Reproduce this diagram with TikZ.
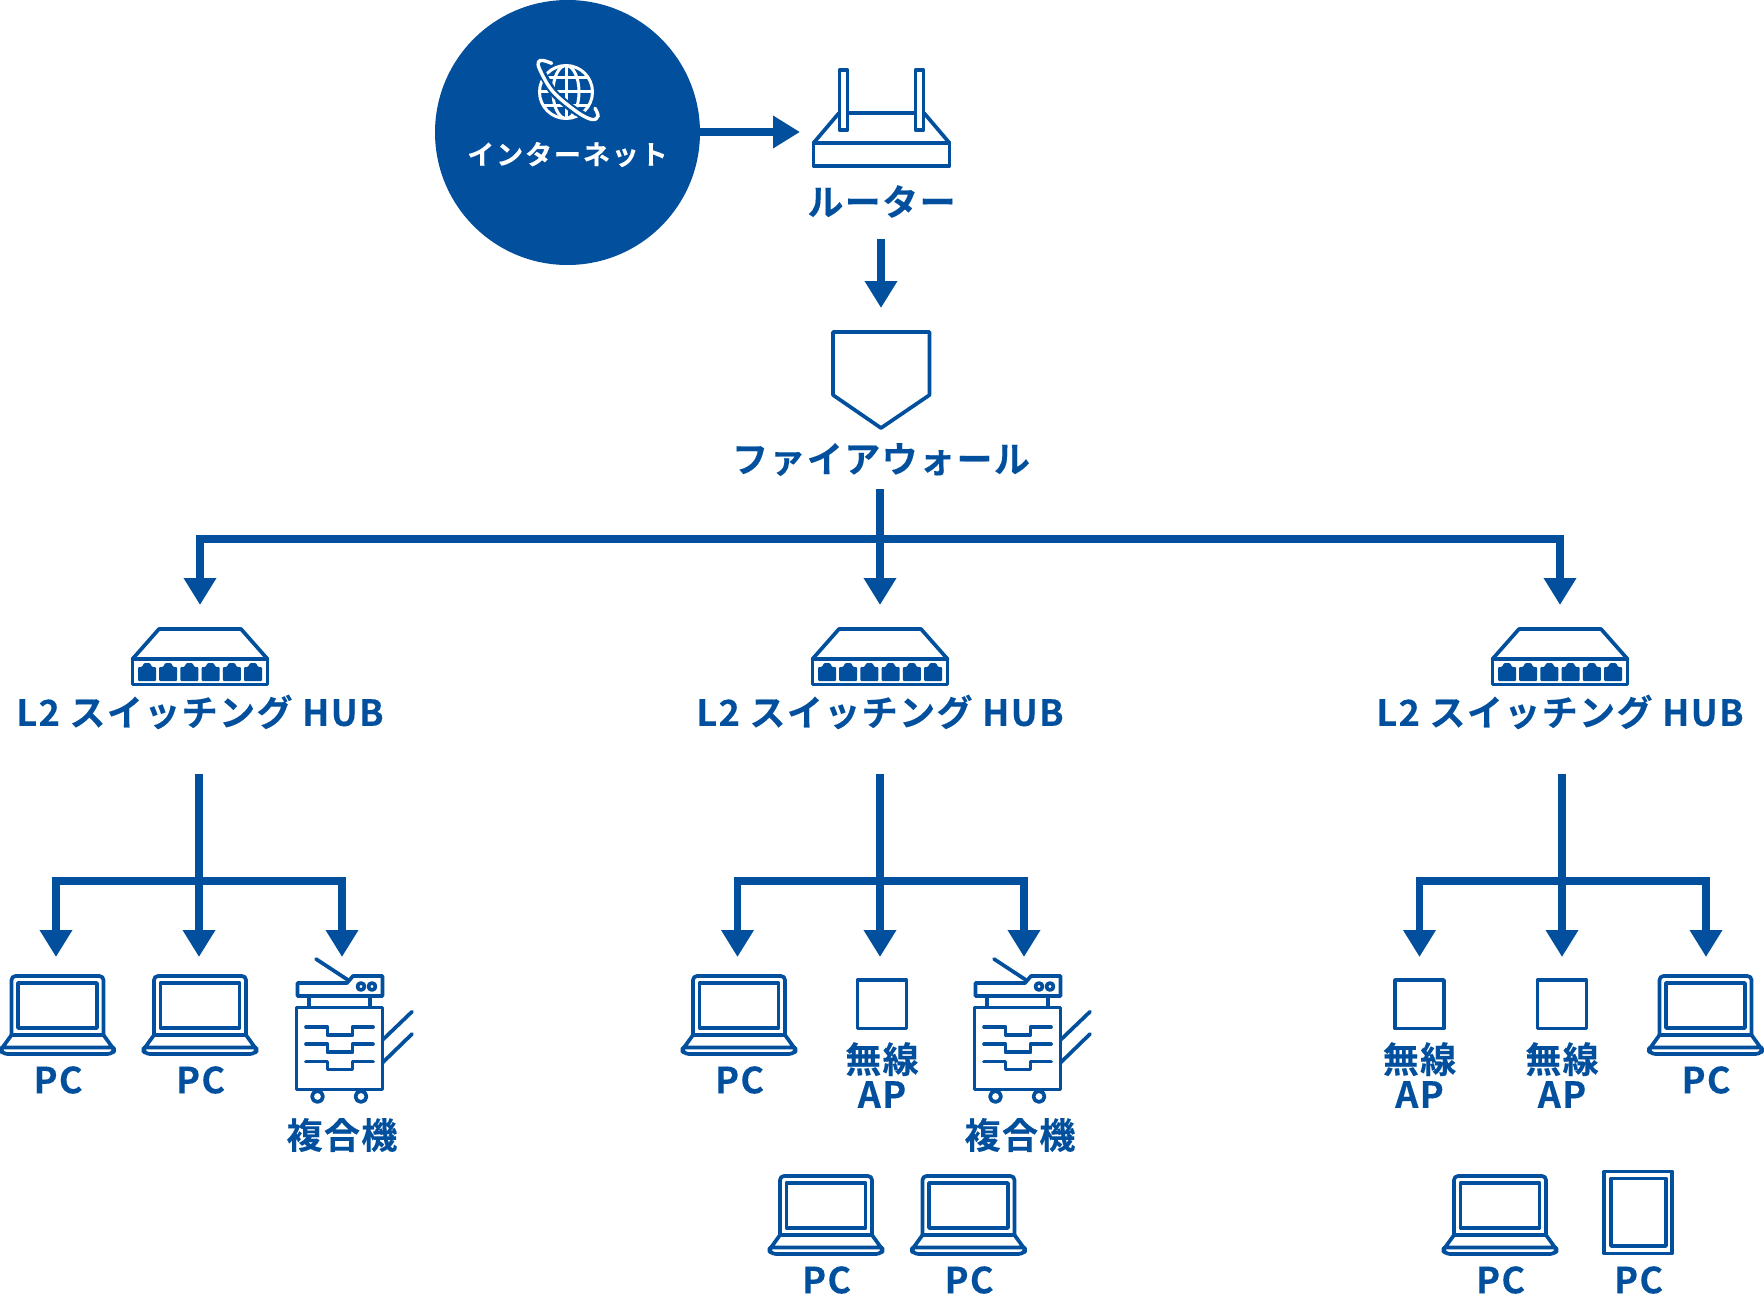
\documentclass[tikz,border=0pt]{standalone}
\usepackage{fontspec}
\usetikzlibrary{arrows.meta}
\setmainfont{Noto Sans CJK JP}[BoldFont={Noto Sans CJK JP Bold}]
\definecolor{nb}{HTML}{02509D}
\tikzset{
  base/.style={x=1pt,y=-1pt},
  icon/.style={draw=nb,line width=3.7pt,line join=round,line cap=round,fill=none},
  conn/.style={draw=nb,line width=7.5pt,line join=miter,-{Triangle[length=27pt,width=31pt]}},
  lbl/.style={text=nb,inner sep=0pt,align=center,font=\bfseries\fontsize{36}{35}\selectfont\addfontfeature{LetterSpace=3.9,FakeBold=0.25}},
  laptop/.pic={
    \draw[icon,rounded corners=4pt] (-46,59) -- (-46,0) -- (46,0) -- (46,59);
    \draw[icon] (-39.5,7) rectangle (39.5,52);
    \draw[icon] (-46,59) -- (46,59) -- (55,71.5) -- (-55,71.5) -- cycle;
    \draw[icon,rounded corners=3pt] (-55,71.5) -- (-56.5,73) -- (-56.5,75) -- (-53,78) -- (53,78) -- (56.5,75) -- (56.5,73) -- (55,71.5);
  },
  hub/.pic={
    \draw[icon] (-67.5,31) -- (-41,1) -- (41,1) -- (67.5,31) -- cycle;
    \draw[icon] (-67.5,31) rectangle (67.5,56.5);
    \foreach \px in {-53,-31.8,-10.6,10.6,31.8,53}{
      \fill[nb,rounded corners=1pt] (\px-9,53) -- (\px-9,39) -- (\px-5,39) -- (\px-3,35) -- (\px+3,35) -- (\px+5,39) -- (\px+9,39) -- (\px+9,53) -- cycle;
    }
  },
  printer/.pic={
    \draw[icon] (-43,25.5) rectangle (43,107.5);
    \draw[icon] (-42,14) -- (-42,1) -- (7.5,1) -- (13.5,-6) -- (43,-6) -- (43,14) -- cycle;
    \draw[icon] (-23.5,-23) -- (8.5,-2);
    \draw[icon] (21.5,4.5) circle[radius=3.5];
    \draw[icon] (32.5,4.5) circle[radius=3.5];
    \draw[icon] (-30.5,14) -- (-30.5,25);
    \draw[icon] (30.5,14) -- (30.5,25);
    \foreach \ty in {45,62.3,79.6}{
      \draw[icon] (-33.5,\ty) -- (-12,\ty) -- (-12,\ty+8) -- (13,\ty+8) -- (13,\ty) -- (33.5,\ty);
    }
    \draw[icon] (43,58) -- (72.5,29.7);
    \draw[icon] (43,80.7) -- (72.5,52);
    \draw[icon] (-22,114.5) circle[radius=5.5];
    \draw[icon] (21.5,114.5) circle[radius=5.5];
  },
  apbox/.pic={\draw[icon] (-24.5,1) rectangle (24.5,49.5);},
}
\begin{document}
\begin{tikzpicture}[base]
\useasboundingbox (0,0) rectangle (1764,1295);
% internet
\node[circle,fill=nb,minimum size=265pt,inner sep=0pt] (net) at (567.5,132.5) {};
\begin{scope}[white,line width=3pt]
  \draw (566,92) circle[radius=26.5];
  \begin{scope}
    \clip (566,92) circle[radius=26.5];
    \draw (566,65) -- (566,119);
    \draw (539,78) -- (593,78);
    \draw (539,92) -- (593,92);
    \draw (539,106) -- (593,106);
    \draw (566,92) ellipse[x radius=13,y radius=26.5];
  \end{scope}
  \draw[nb,line width=8pt] plot[smooth,tension=.6] coordinates {(542,73) (553,91.7) (565,103) (576.7,111.7) (588,117.5)};
  \draw[line width=3.4pt,line cap=round] plot[smooth,tension=.6] coordinates {(551.7,63.3) (543,60.5) (538.5,62) (540,70) (553,91.7) (576.7,111.7) (592,119.5) (598,116) (595,108.3)};
\end{scope}
\node[lbl,text=white,font=\bfseries\fontsize{27}{28}\selectfont\addfontfeature{LetterSpace=7,FakeBold=0.25}] (netl) at (567.5,154.5) {インターネット};
% router
\coordinate (rtin) at (800,132);
\draw[icon] (813.5,143) -- (839,113);
\draw[icon] (949.5,143) -- (924,113);
\draw[icon] (848,113) -- (915,113);
\draw[icon] (839.5,70) rectangle (847.5,130);
\draw[icon] (915.5,70) rectangle (923.5,130);
\draw[icon] (813.5,143) rectangle (949.5,166);
\node[lbl] (rtl) at (881.5,201.5) {ルーター};
\draw[conn] (net.east |- rtin) -- (rtin);
% router to firewall
\coordinate (rtout) at (881,238.5);
\coordinate (fwin) at (881,308);
\draw[conn] (rtout) -- (fwin);
% firewall
\draw[icon] (833,332) -- (929.5,332) -- (929.5,395) -- (881,428) -- (833,395) -- cycle;
\node[lbl] (fwl) at (881,459.5) {ファイアウォール};
% trunk
\coordinate (fwout) at (880,489);
\coordinate (tj) at (880,539);
\coordinate (h1in) at (200,605);
\coordinate (h2in) at (880,605);
\coordinate (h3in) at (1560,605);
\draw[conn] (tj) -| (h1in);
\draw[conn] (tj) -| (h3in);
\draw[conn] (fwout) -- (h2in);
% hubs
\foreach \hx/\hn in {200/1,880/2,1560/3}{
  \pic at (\hx,628) {hub};
  \node[lbl] (hl\hn) at (\hx,712) {L2 スイッチング HUB};
}
% branch 1
\coordinate (b1out) at (199,774); \coordinate (b1j) at (199,881);
\coordinate (a1) at (56,957); \coordinate (a2) at (199,957); \coordinate (a3) at (342,957);
\draw[conn] (b1j) -| (a1);
\draw[conn] (b1j) -| (a3);
\draw[conn] (b1out) -- (a2);
% branch 2
\coordinate (b2out) at (880,774); \coordinate (b2j) at (880,881);
\coordinate (a4) at (737.5,957); \coordinate (a5) at (880,957); \coordinate (a6) at (1024,957);
\draw[conn] (b2j) -| (a4);
\draw[conn] (b2j) -| (a6);
\draw[conn] (b2out) -- (a5);
% branch 3
\coordinate (b3out) at (1562,774); \coordinate (b3j) at (1562,881);
\coordinate (a7) at (1419.5,957); \coordinate (a8) at (1562,957); \coordinate (a9) at (1706,957);
\draw[conn] (b3j) -| (a7);
\draw[conn] (b3j) -| (a9);
\draw[conn] (b3out) -- (a8);
% laptops
\foreach \lx/\ly/\ln in {57.5/976/1,200/976/2,739/976/3,1705.5/976/4,826/1176/5,968.5/1176/6,1500/1176/7}{
  \pic at (\lx,\ly) {laptop};
  \node[lbl] (pc\ln) at (\lx+0.6,\ly+104) {PC};
}
% printers
\pic at (339.5,982) {printer};
\node[lbl] (mfp1) at (342,1135) {複合機};
\pic at (1017.5,982) {printer};
\node[lbl] (mfp2) at (1020,1135) {複合機};
% AP
\foreach \ax/\an in {882/1,1419.5/2,1562/3}{
  \pic at (\ax,979) {apbox};
  \node[lbl] (ap\an) at (\ax,1075) {無線\\AP};
}
% tablet
\draw[icon] (1604,1171.5) rectangle (1672,1253.5);
\draw[icon] (1611,1178.5) rectangle (1666,1246);
\node[lbl] (pc8) at (1638.6,1280) {PC};
\end{tikzpicture}
\end{document}
